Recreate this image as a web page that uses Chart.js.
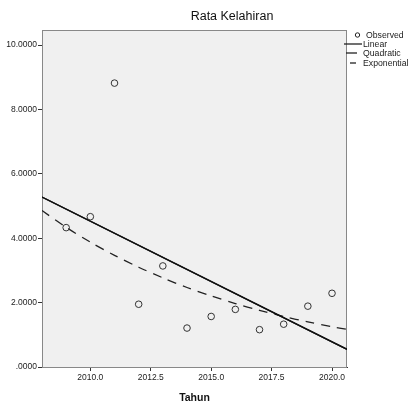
<!DOCTYPE html>
<html>
<head>
<meta charset="utf-8">
<script src="https://cdn.jsdelivr.net/npm/chart.js@4.4.1/dist/chart.umd.min.js"></script>
<style>
  html, body { margin: 0; padding: 0; background: #fff; }
  #wrap { width: 409px; height: 404px; }
</style>
</head>
<body>
<div id="wrap"><canvas id="chart"></canvas></div>
<script>
// observed values
var years = [2009, 2010, 2011, 2012, 2013, 2014, 2015, 2016, 2017, 2018, 2019, 2020];
var observed = [4.33, 4.67, 8.82, 1.95, 3.14, 1.21, 1.57, 1.79, 1.16, 1.33, 1.89, 2.29];

// fitted lines
var linearX = [2008.0, 2020.62];
var linearY = [5.28, 0.55];
var quadraticX = [2008.0, 2020.62];
var quadraticY = [5.28, 0.55];
var expX = [2008.0, 2009, 2010, 2011, 2012, 2013, 2014, 2015, 2016, 2017, 2018, 2019, 2020, 2020.62];
var expY = [4.86, 4.34, 3.88, 3.47, 3.10, 2.77, 2.47, 2.21, 1.97, 1.76, 1.57, 1.40, 1.25, 1.17];

var xTicks = [2010.0, 2012.5, 2015.0, 2017.5, 2020.0];
var yTicks = [0, 2, 4, 6, 8, 10];
var legendLabels = ['Observed', 'Linear', 'Quadratic', 'Exponential'];

function pairs(xs, ys) {
  return xs.map(function (x, i) { return { x: x, y: ys[i] }; });
}

var FONT = "'Liberation Sans', Arial, sans-serif";

var frame = {
  id: 'frame',
  beforeDatasetsDraw: function (chart) {
    var a = chart.chartArea, ctx = chart.ctx;
    ctx.save();
    ctx.fillStyle = '#f0f0f0';
    ctx.fillRect(a.left, a.top, a.right - a.left, a.bottom - a.top);
    ctx.strokeStyle = '#888';
    ctx.lineWidth = 1;
    ctx.strokeRect(a.left + 0.5, a.top + 0.5, a.right - a.left - 1, a.bottom - a.top);
    ctx.restore();
  },
  afterDraw: function (chart) {
    var ctx = chart.ctx;
    ctx.save();
    // title
    ctx.fillStyle = '#111';
    ctx.font = '12.5px ' + FONT;
    ctx.textAlign = 'center';
    ctx.textBaseline = 'middle';
    ctx.fillText('Rata Kelahiran', 232, 17);
    // legend
    ctx.font = '8.7px ' + FONT;
    ctx.textAlign = 'left';
    ctx.fillStyle = '#222';
    ctx.strokeStyle = '#222';
    ctx.lineWidth = 1;
    ctx.beginPath();
    ctx.arc(357.5, 35, 2.2, 0, Math.PI * 2);
    ctx.stroke();
    ctx.fillText(legendLabels[0], 366, 35.5);
    ctx.lineWidth = 1.3;
    ctx.beginPath(); ctx.moveTo(344, 44); ctx.lineTo(362, 44); ctx.stroke();
    ctx.fillText(legendLabels[1], 363, 44.5);
    ctx.beginPath(); ctx.moveTo(346, 53); ctx.lineTo(357, 53); ctx.stroke();
    ctx.fillText(legendLabels[2], 363, 53.5);
    ctx.beginPath(); ctx.moveTo(350, 63); ctx.lineTo(356, 63); ctx.stroke();
    ctx.fillText(legendLabels[3], 363, 63.5);
    ctx.restore();
  }
};

new Chart(document.getElementById('chart'), {
  type: 'scatter',
  data: {
    datasets: [
      {
        label: legendLabels[0],
        data: pairs(years, observed),
        showLine: false,
        pointStyle: 'circle',
        pointRadius: 3.3,
        pointBorderWidth: 1,
        pointBorderColor: '#333',
        pointBackgroundColor: 'rgba(0,0,0,0)',
        order: 0
      },
      {
        label: legendLabels[1],
        data: pairs(linearX, linearY),
        showLine: true,
        borderColor: '#111',
        borderWidth: 1.3,
        pointRadius: 0,
        order: 1
      },
      {
        label: legendLabels[2],
        data: pairs(quadraticX, quadraticY),
        showLine: true,
        borderColor: '#111',
        borderWidth: 1.3,
        pointRadius: 0,
        order: 2
      },
      {
        label: legendLabels[3],
        data: pairs(expX, expY),
        showLine: true,
        borderColor: '#222',
        borderWidth: 1.3,
        borderDash: [9, 7],
        tension: 0.3,
        pointRadius: 0,
        order: 3
      }
    ]
  },
  options: {
    responsive: true,
    maintainAspectRatio: false,
    animation: false,
    events: [],
    layout: { padding: { left: 0, right: 62, top: 30, bottom: 0 } },
    plugins: {
      legend: { display: false },
      title: { display: false },
      tooltip: { enabled: false }
    },
    scales: {
      x: {
        type: 'linear',
        min: 2008.0,
        max: 2020.62,
        afterBuildTicks: function (s) { s.ticks = xTicks.map(function (v) { return { value: v }; }); },
        afterFit: function (s) { s.height = 37; },
        grid: { drawOnChartArea: false, drawTicks: true, tickLength: 4, color: '#333' },
        border: { display: true, color: '#333', width: 1 },
        ticks: {
          padding: 2,
          maxRotation: 0,
          color: '#222',
          font: { family: FONT, size: 8.5 },
          callback: function (v) { return v.toFixed(1); }
        },
        title: {
          display: true,
          text: 'Tahun',
          color: '#111',
          font: { family: FONT, size: 10.5, weight: 'bold' },
          padding: { top: 4, bottom: 0 }
        }
      },
      y: {
        type: 'linear',
        min: 0,
        max: 10.47,
        afterBuildTicks: function (s) { s.ticks = yTicks.map(function (v) { return { value: v }; }); },
        afterFit: function (s) { s.width = 42; },
        grid: { drawOnChartArea: false, drawTicks: true, tickLength: 4, color: '#333' },
        border: { display: true, color: '#333', width: 1 },
        ticks: {
          padding: 1,
          color: '#222',
          font: { family: FONT, size: 8.5 },
          callback: function (v) { return v === 0 ? '.0000' : v.toFixed(4); }
        }
      }
    }
  },
  plugins: [frame]
});
</script>
</body>
</html>
